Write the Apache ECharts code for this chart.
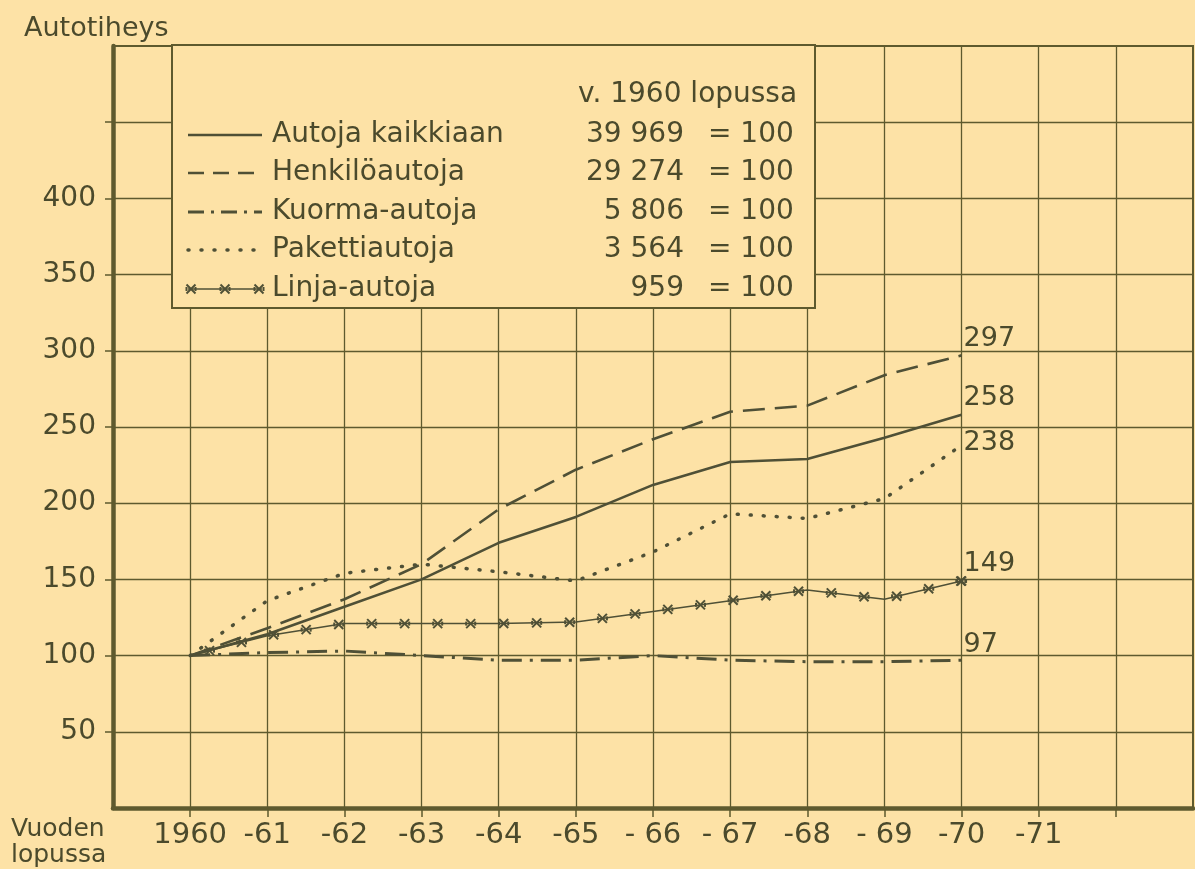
<!DOCTYPE html>
<html>
<head>
<meta charset="utf-8">
<title>Autotiheys</title>
<script src="https://cdn.jsdelivr.net/npm/echarts@6/dist/echarts.min.js"></script>
<style>
html, body { margin: 0; padding: 0; background: #fde2a6; }
#main { width: 1195px; height: 869px; }
</style>
</head>
<body>
<div id="main"></div>
<script>
// vuoden lopussa, 1960 = 100
var years = [1960, 1961, 1962, 1963, 1964, 1965, 1966, 1967, 1968, 1969, 1970]
var kaikkiaan = [100, 114, 132, 150, 174, 191, 212, 227, 229, 243, 258]
var henkilo = [100, 118, 137, 160, 196, 222, 242, 260, 264, 284, 297]
var kuorma = [100, 102, 103, 100, 97, 97, 100, 97, 96, 96, 97]
var paketti = [100, 136, 154, 160, 155, 149, 168, 193, 190, 203, 238]
var linja = [100, 113, 121, 121, 121, 122, 129, 136, 143, 137, 149]

var seriesNames = ['Autoja kaikkiaan', 'Henkilöautoja', 'Kuorma-autoja', 'Pakettiautoja', 'Linja-autoja']
var baseCounts = [39969, 29274, 5806, 3564, 959]

var xTickYears = [1960, 1961, 1962, 1963, 1964, 1965, 1966, 1967, 1968, 1969, 1970, 1971, 1972]
var xTickLabels = ['1960', '-61', '-62', '-63', '-64', '-65', '- 66', '- 67', '-68', '- 69', '-70', '-71']
var yTickValues = [50, 100, 150, 200, 250, 300, 350, 400, 450]
var yTickLabels = [50, 100, 150, 200, 250, 300, 350, 400]

var ink = '#4b4a2c'
var lineInk = '#4f5036'
var gridInk = '#5e5a2e'
var bg = '#fde2a6'
var font = '"DejaVu Sans", sans-serif'

function pairs(arr) {
  return arr.map(function (v, i) { return [years[i], v] })
}
function fmtCount(n) {
  return String(n).replace(/\B(?=(\d{3})+(?!\d))/g, ' ')
}

// pieni "x"-merkki linja-autojen viivalle
function crossMark(x, y) {
  var s = 4.5
  var st = { stroke: lineInk, lineWidth: 2 }
  return [
    { type: 'line', shape: { x1: x - s, y1: y - s, x2: x + s, y2: y + s }, style: st },
    { type: 'line', shape: { x1: x - s, y1: y + s, x2: x + s, y2: y - s }, style: st },
    { type: 'line', shape: { x1: x - s, y1: y - 2, x2: x - s, y2: y + 2 }, style: st },
    { type: 'line', shape: { x1: x + s, y1: y - 2, x2: x + s, y2: y + 2 }, style: st }
  ]
}

var chart = echarts.init(document.getElementById('main'))

var endLabel = function (dy) {
  return {
    show: true,
    formatter: function (p) { return p.value[1] },
    color: ink,
    fontFamily: font,
    fontSize: 27,
    distance: 0,
    offset: [2, dy]
  }
}

// legendan rivit
var legendRows = [135, 173, 212, 250, 289]
var legendEls = [
  {
    type: 'rect', z: 100,
    shape: { x: 172, y: 45, width: 643, height: 263 },
    style: { fill: bg, stroke: gridInk, lineWidth: 2 }
  },
  {
    type: 'text', z: 101,
    style: { text: 'v. 1960 lopussa', x: 578, y: 95, font: '28px ' + font, fill: ink, textAlign: 'left', textVerticalAlign: 'middle' }
  }
]
legendRows.forEach(function (y, i) {
  legendEls.push({
    type: 'text', z: 101,
    style: { text: seriesNames[i], x: 272, y: y, font: '28px ' + font, fill: ink, textAlign: 'left', textVerticalAlign: 'middle' }
  })
  legendEls.push({
    type: 'text', z: 101,
    style: { text: fmtCount(baseCounts[i]), x: 684, y: y, font: '28px ' + font, fill: ink, textAlign: 'right', textVerticalAlign: 'middle' }
  })
  legendEls.push({
    type: 'text', z: 101,
    style: { text: '= 100', x: 708, y: y, font: '28px ' + font, fill: ink, textAlign: 'left', textVerticalAlign: 'middle' }
  })
})
var sampleDash = [null, [16, 9], [16, 7, 3, 7], [1, 12], null]
var sampleWidth = [2.5, 2.5, 3, 3.5, 1.5]
legendRows.forEach(function (y, i) {
  legendEls.push({
    type: 'line', z: 101,
    shape: { x1: 188, y1: y, x2: 262, y2: y },
    style: { stroke: lineInk, lineWidth: sampleWidth[i], lineDash: sampleDash[i], lineCap: i === 3 ? 'round' : 'butt' }
  })
})
crossMark(191, legendRows[4]).concat(crossMark(225, legendRows[4]), crossMark(259, legendRows[4])).forEach(function (el) {
  el.z = 102
  legendEls.push(el)
})

var option = {
  backgroundColor: bg,
  animation: false,
  grid: {
    left: 113,
    right: 2,
    top: 46,
    bottom: 61,
    show: true,
    borderColor: gridInk,
    borderWidth: 2
  },
  xAxis: {
    type: 'value',
    min: 1959,
    max: 1973,
    interval: 1,
    axisLine: { show: true, onZero: false, lineStyle: { color: gridInk, width: 4.5 } },
    axisTick: { show: true, customValues: xTickYears, length: 9, lineStyle: { color: gridInk, width: 1.5 } },
    axisLabel: {
      customValues: xTickYears.slice(0, xTickLabels.length),
      formatter: function (v) { return xTickLabels[v - 1960] },
      color: ink,
      fontFamily: font,
      fontSize: 29,
      margin: 13
    },
    splitLine: { show: true, lineStyle: { color: gridInk, width: 1.3 } }
  },
  yAxis: {
    type: 'value',
    min: 0,
    max: 500,
    interval: 50,
    axisLine: { show: true, lineStyle: { color: gridInk, width: 4.5 } },
    axisTick: { show: true, customValues: yTickValues, length: 8, lineStyle: { color: gridInk, width: 1.5 } },
    axisLabel: {
      customValues: yTickLabels,
      color: ink,
      fontFamily: font,
      fontSize: 28,
      margin: 17
    },
    splitLine: { show: true, lineStyle: { color: gridInk, width: 1.3 } }
  },
  graphic: [
    {
      type: 'text',
      style: { text: 'Autotiheys', x: 24, y: 29, font: '27px ' + font, fill: ink, textAlign: 'left', textVerticalAlign: 'middle' }
    },
    {
      type: 'text',
      style: { text: 'Vuoden\nlopussa', x: 11, y: 842, font: '25px ' + font, lineHeight: 26, fill: ink, textAlign: 'left', textVerticalAlign: 'middle' }
    }
  ].concat(legendEls),
  series: [
    {
      name: seriesNames[0],
      type: 'line',
      data: pairs(kaikkiaan),
      symbol: 'none',
      lineStyle: { color: lineInk, width: 2.6 },
      endLabel: endLabel(-17),
      z: 3
    },
    {
      name: seriesNames[1],
      type: 'line',
      data: pairs(henkilo),
      symbol: 'none',
      lineStyle: { color: lineInk, width: 2.6, type: [22, 10] },
      endLabel: endLabel(-16),
      z: 3
    },
    {
      name: seriesNames[2],
      type: 'line',
      data: pairs(kuorma),
      symbol: 'none',
      lineStyle: { color: lineInk, width: 3, type: [20, 8, 3, 8] },
      endLabel: endLabel(-15),
      z: 3
    },
    {
      name: seriesNames[3],
      type: 'line',
      data: pairs(paketti),
      symbol: 'none',
      lineStyle: { color: lineInk, width: 3.5, type: [1, 12], cap: 'round' },
      endLabel: endLabel(-2),
      z: 3
    },
    {
      name: seriesNames[4],
      type: 'line',
      data: pairs(linja),
      symbol: 'none',
      lineStyle: { color: lineInk, width: 1.5 },
      endLabel: endLabel(-17),
      z: 3
    },
    {
      // merkit viivan varrelle tasavälein
      name: seriesNames[4] + ' merkit',
      type: 'custom',
      silent: true,
      z: 4,
      data: pairs(linja),
      encode: { x: 0, y: 1 },
      renderItem: function (params, api) {
        var i = params.dataIndex
        var children = []
        if (i >= linja.length - 1) return { type: 'group', children: children }
        var pts = years.map(function (yr, k) { return api.coord([yr, linja[k]]) })
        var start = 0
        for (var k = 0; k < i; k++) {
          start += Math.hypot(pts[k + 1][0] - pts[k][0], pts[k + 1][1] - pts[k][1])
        }
        var p0 = pts[i], p1 = pts[i + 1]
        var len = Math.hypot(p1[0] - p0[0], p1[1] - p0[1])
        var step = 33, first = 20
        var s = first + Math.ceil(Math.max(0, start - first) / step) * step
        while (s < start + len) {
          var t = (s - start) / len
          children = children.concat(crossMark(p0[0] + (p1[0] - p0[0]) * t, p0[1] + (p1[1] - p0[1]) * t))
          s += step
        }
        if (i === linja.length - 2) children = children.concat(crossMark(p1[0], p1[1]))
        return { type: 'group', children: children }
      }
    }
  ]
}

chart.setOption(option)
</script>
</body>
</html>
